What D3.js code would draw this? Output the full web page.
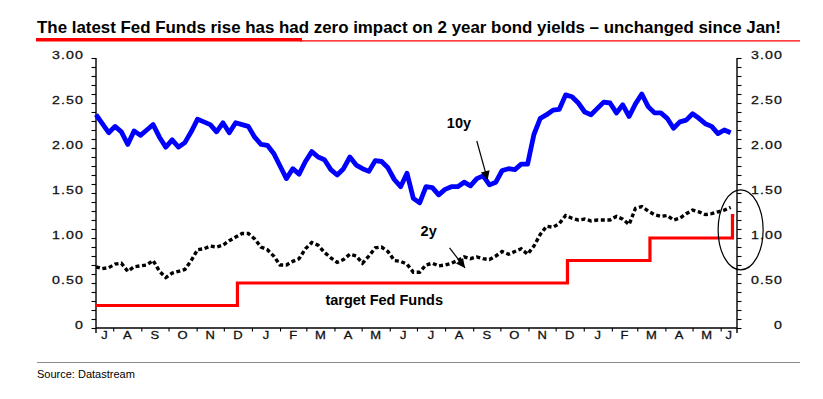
<!DOCTYPE html>
<html>
<head>
<meta charset="utf-8">
<script src="https://d3js.org/d3.v7.min.js"></script>
<style>
	body { margin: 0; background: #fff; }
	svg text { font-family: "Liberation Sans", Arial, Helvetica, sans-serif; }
</style>
</head>
<body>
<svg id="chart" width="823" height="399"></svg>
<script>
// weekly readings (Mondays from 13 Jul 2015)
var yield10y = [
	2.37, 2.27, 2.17, 2.24, 2.18, 2.04, 2.19, 2.14, 2.20, 2.26,
	2.12, 2.01, 2.09, 2.01, 2.06, 2.18, 2.32, 2.29, 2.26, 2.18,
	2.28, 2.17, 2.28, 2.26, 2.24, 2.12, 2.04, 2.03, 1.94, 1.80,
	1.66, 1.77, 1.71, 1.85, 1.96, 1.90, 1.87, 1.76, 1.70, 1.77,
	1.90, 1.81, 1.77, 1.74, 1.86, 1.85, 1.78, 1.65, 1.57, 1.72,
	1.44, 1.39, 1.57, 1.56, 1.48, 1.54, 1.57, 1.57, 1.62, 1.58,
	1.66, 1.69, 1.59, 1.62, 1.75, 1.77, 1.76, 1.82, 1.82, 2.15,
	2.33, 2.37, 2.42, 2.43, 2.59, 2.57, 2.50, 2.40, 2.37, 2.44,
	2.51, 2.50, 2.39, 2.48, 2.35, 2.49, 2.60, 2.46, 2.39, 2.39,
	2.33, 2.22, 2.29, 2.31, 2.38, 2.33, 2.27, 2.24, 2.16, 2.20,
	2.17
];
var yield2y = [
	0.68, 0.66, 0.67, 0.71, 0.72, 0.63, 0.68, 0.69, 0.70, 0.75,
	0.63, 0.56, 0.61, 0.63, 0.65, 0.75, 0.87, 0.88, 0.91, 0.90,
	0.92, 0.97, 1.01, 1.05, 1.05, 0.99, 0.90, 0.87, 0.80, 0.70,
	0.70, 0.74, 0.77, 0.88, 0.95, 0.92, 0.84, 0.78, 0.73, 0.76,
	0.82, 0.80, 0.72, 0.80, 0.89, 0.90, 0.85, 0.75, 0.74, 0.71,
	0.62, 0.62, 0.70, 0.72, 0.69, 0.70, 0.72, 0.75, 0.79, 0.77,
	0.79, 0.77, 0.76, 0.80, 0.85, 0.82, 0.85, 0.88, 0.82, 0.91,
	1.04, 1.13, 1.12, 1.16, 1.25, 1.22, 1.20, 1.21, 1.19, 1.20,
	1.20, 1.20, 1.24, 1.21, 1.15, 1.33, 1.35, 1.30, 1.26, 1.24,
	1.25, 1.20, 1.22, 1.27, 1.31, 1.29, 1.26, 1.27, 1.29, 1.31,
	1.34
];
// target fed funds (upper bound) and the dates it changed
var fedDates = ["2015-07-13", "2015-12-16", "2016-12-14", "2017-03-15", "2017-06-14", "2017-06-16"];
var fedRates = [0.25, 0.50, 0.75, 1.00, 1.25, 1.25];
var yLabels = [0, 0.5, 1, 1.5, 2, 2.5, 3];

var titleText = "The latest Fed Funds rise has had zero impact on 2 year bond yields \u2013 unchanged since Jan!";
var sourceText = "Source: Datastream";

(function() {

	var left = 96, right = 737, top = 58, bottom = 328;
	var svg = d3.select("#chart");
	var parse = d3.timeParse("%Y-%m-%d");
	var startDate = parse("2015-07-13");
	var endDate = parse("2017-06-19");

	var x = d3.scaleTime().domain([startDate, endDate]).range([left, right]);
	var y = d3.scaleLinear().domain([0, 3]).range([bottom, top]);

	var weeks = d3.timeMonday.range(startDate, endDate);

	// title + red rule
	svg.append("text")
		.attr("x", 37)
		.attr("y", 33)
		.attr("textLength", 744)
		.attr("lengthAdjust", "spacingAndGlyphs")
		.style("font-size", "17px")
		.style("font-weight", "bold")
		.attr("fill", "#000")
		.text(titleText);
	svg.append("rect").attr("x", 36).attr("y", 38).attr("width", 266).attr("height", 3.5).attr("fill", "#ff0000");
	svg.append("line").attr("x1", 300).attr("x2", 800).attr("y1", 40.8).attr("y2", 40.8)
		.attr("stroke", "#ff0000").attr("stroke-width", 1.2);

	// bottom rule + source
	svg.append("line").attr("x1", 37).attr("x2", 800).attr("y1", 362.5).attr("y2", 362.5)
		.attr("stroke", "#8a8a8a").attr("stroke-width", 1);
	svg.append("text").attr("x", 37).attr("y", 378)
		.style("font-size", "11px").attr("fill", "#000")
		.text(sourceText);

	// y axes, a tick every 0.10
	var minorTicks = d3.range(0, 31).map(function(i) { return i / 10; });
	var leftAxis = d3.axisLeft(y).tickValues(minorTicks).tickSize(4.5).tickFormat("");
	var rightAxis = d3.axisRight(y).tickValues(minorTicks).tickSize(4.5).tickFormat("");
	var gl = svg.append("g").attr("transform", "translate(" + left + ",0)").call(leftAxis);
	var gr = svg.append("g").attr("transform", "translate(" + right + ",0)").call(rightAxis);
	[gl, gr].forEach(function(g) {
		g.select(".domain").attr("d", "M0," + top + "V" + (bottom + 5)).attr("stroke", "#000").attr("stroke-width", 1.4);
		g.selectAll(".tick line").attr("stroke", "#000").attr("stroke-width", 1.1);
	});

	var fmt = function(d) { return d === 0 ? "0" : d3.format(".2f")(d); };
	[84, 783].forEach(function(lx) {
		svg.append("g").selectAll("text")
			.data(yLabels).enter()
			.append("text")
				.attr("text-anchor", "end")
				.attr("transform", function(d) { return "translate(" + lx + "," + (y(d) + 0.5) + ") scale(1.35,1)"; })
				.style("font-size", "10.5px")
				.style("letter-spacing", "0.8px")
				.attr("fill", "#111")
				.attr("stroke", "#111")
				.attr("stroke-width", 0.25)
				.text(fmt);
	});

	// x axis, month boundaries with letters centred in each month
	var monthStarts = d3.timeMonth.range(d3.timeMonth.ceil(startDate), endDate);
	var xAxis = d3.axisBottom(x).tickValues(monthStarts).tickSize(3.5).tickFormat("");
	var gx = svg.append("g").attr("transform", "translate(0," + bottom + ")").call(xAxis);
	gx.select(".domain").attr("d", "M" + left + ",0H" + right).attr("stroke", "#000").attr("stroke-width", 1.4);
	gx.selectAll(".tick line").attr("stroke", "#000").attr("stroke-width", 1.1);

	var months = d3.timeMonth.range(d3.timeMonth.floor(startDate), endDate);
	svg.append("g").selectAll("text")
		.data(months).enter()
		.append("text")
			.attr("text-anchor", "middle")
			.attr("transform", function(d) {
				var a = d < startDate ? startDate : d;
				var b = d3.timeMonth.offset(d, 1);
				if (b > endDate) b = endDate;
				return "translate(" + ((x(a) + x(b)) / 2) + ",339) scale(1.3,1)";
			})
			.style("font-size", "10px")
			.attr("fill", "#111")
			.attr("stroke", "#111")
			.attr("stroke-width", 0.25)
			.text(function(d) { return d3.timeFormat("%b")(d).charAt(0); });

	// fed funds step line
	var fed = fedDates.map(function(d, i) { return { date: parse(d), value: fedRates[i] }; });
	svg.append("path")
		.datum(fed)
		.attr("fill", "none")
		.attr("stroke", "#ff0000")
		.attr("stroke-width", 3.2)
		.attr("d", d3.line()
			.curve(d3.curveStepAfter)
			.x(function(d) { return x(d.date); })
			.y(function(d) { return y(d.value); }));

	// 2 year, dotted black
	svg.append("path")
		.datum(yield2y)
		.attr("fill", "none")
		.attr("stroke", "#000")
		.attr("stroke-width", 3.4)
		.attr("stroke-dasharray", "4,2.6")
		.attr("d", d3.line()
			.x(function(d, i) { return x(weeks[i]); })
			.y(function(d) { return y(d); }));

	// 10 year, thick blue
	svg.append("path")
		.datum(yield10y)
		.attr("fill", "none")
		.attr("stroke", "#0000ff")
		.attr("stroke-width", 4.8)
		.attr("stroke-linejoin", "round")
		.attr("d", d3.line()
			.x(function(d, i) { return x(weeks[i]); })
			.y(function(d) { return y(d); }));

	// annotations
	svg.append("defs").append("marker")
		.attr("id", "arrow")
		.attr("viewBox", "0 0 10 10")
		.attr("refX", 10).attr("refY", 5)
		.attr("markerUnits", "userSpaceOnUse")
		.attr("markerWidth", 10).attr("markerHeight", 9)
		.attr("orient", "auto")
		.append("path").attr("d", "M0,0L10,5L0,10z").attr("fill", "#000");

	var labels = [
		{ text: "10y", date: "2016-08-03", value: 2.22 },
		{ text: "2y", date: "2016-07-05", value: 1.02 },
		{ text: "target Fed Funds", date: "2016-03-22", value: 0.256 }
	];
	svg.append("g").selectAll("text")
		.data(labels).enter()
		.append("text")
			.attr("x", function(d) { return x(parse(d.date)); })
			.attr("y", function(d) { return y(d.value); })
			.style("font-size", "14.5px")
			.style("font-weight", "bold")
			.attr("fill", "#000")
			.text(function(d) { return d.text; });

	var arrows = [
		{ from: ["2016-09-05", 2.078], to: ["2016-09-17", 1.644] },
		{ from: ["2016-08-06", 0.889], to: ["2016-08-23", 0.667] }
	];
	svg.append("g").selectAll("line")
		.data(arrows).enter()
		.append("line")
			.attr("x1", function(d) { return x(parse(d.from[0])); })
			.attr("y1", function(d) { return y(d.from[1]); })
			.attr("x2", function(d) { return x(parse(d.to[0])); })
			.attr("y2", function(d) { return y(d.to[1]); })
			.attr("stroke", "#000")
			.attr("stroke-width", 1.2)
			.attr("marker-end", "url(#arrow)");

	// ring round the latest move
	var ringCentre = parse("2017-06-23");
	svg.append("ellipse")
		.attr("cx", x(ringCentre))
		.attr("cy", y(1.09))
		.attr("rx", 22.5)
		.attr("ry", y(0) - y(0.444))
		.attr("fill", "none")
		.attr("stroke", "#000")
		.attr("stroke-width", 1.2);

})();
</script>
</body>
</html>
